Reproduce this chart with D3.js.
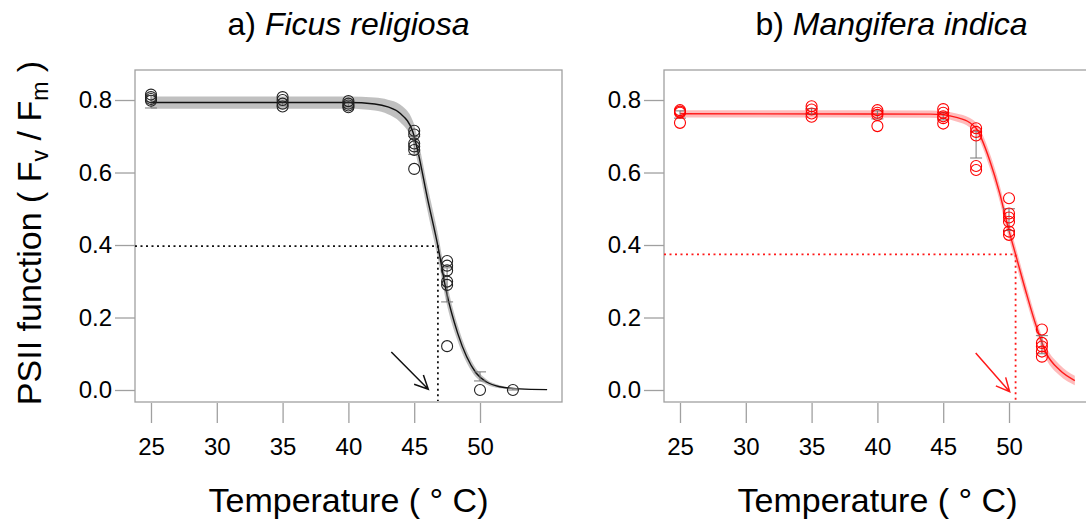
<!DOCTYPE html>
<html>
<head>
<meta charset="utf-8">
<script src="https://cdn.jsdelivr.net/npm/d3@7"></script>
<style>
  body { margin: 0; background: #fff; }
  svg { display: block; font-family: "Liberation Sans", Arial, sans-serif; }
</style>
</head>
<body>
<svg id="chart" width="1086" height="521"></svg>
<script>
// Measurement temperatures (°C)
const temps = [25, 35, 40, 45, 47.5, 50, 52.5];

// Fv/Fm readings per temperature, Ficus religiosa
const ficusFvFm = [
  [0.815, 0.808, 0.803, 0.798],
  [0.808, 0.800, 0.790, 0.782],
  [0.797, 0.790, 0.785, 0.780],
  [0.715, 0.705, 0.680, 0.672, 0.662, 0.610],
  [0.356, 0.343, 0.330, 0.299, 0.290, 0.121],
  [0.000],
  [0.000]
];
// Fv/Fm readings per temperature, Mangifera indica
const mangoFvFm = [
  [0.772, 0.768, 0.765, 0.737],
  [0.783, 0.774, 0.763, 0.754],
  [0.772, 0.765, 0.759, 0.728],
  [0.775, 0.765, 0.755, 0.750, 0.735],
  [0.722, 0.712, 0.702, 0.618, 0.607],
  [0.529, 0.487, 0.476, 0.464, 0.437, 0.428],
  [0.167, 0.130, 0.120, 0.106, 0.092]
];

// Error bar extents (low, high) per temperature
const ficusErrLow  = [0.778, 0.784, 0.781, 0.650, 0.243, 0.025, 0.000];
const ficusErrHigh = [0.812, 0.797, 0.791, 0.700, 0.337, 0.050, 0.004];
const mangoErrLow  = [0.750, 0.760, 0.748, 0.745, 0.640, 0.440, 0.100];
const mangoErrHigh = [0.770, 0.776, 0.770, 0.765, 0.714, 0.500, 0.150];

// Fitted response curves with confidence half-widths
const ficusCurveT = [25, 40, 42, 43, 43.9, 44.9, 45.3, 46, 46.8, 47.47, 48.3, 49.7, 50.5, 51.5, 53, 55.1];
const ficusCurveV = [0.793, 0.793, 0.789, 0.781, 0.764, 0.712, 0.655, 0.53, 0.397, 0.267, 0.157, 0.047, 0.022, 0.009, 0.003, 0.001];
const ficusCI     = [0.017, 0.017, 0.018, 0.02, 0.024, 0.03, 0.033, 0.034, 0.034, 0.03, 0.022, 0.012, 0.007, 0.004, 0.001, 0.0];
const mangoCurveT = [25, 44, 45, 46, 47, 47.5, 48.53, 49.29, 49.92, 50.5, 51.32, 52.08, 52.84, 53.85, 55];
const mangoCurveV = [0.762, 0.761, 0.759, 0.752, 0.738, 0.722, 0.634, 0.543, 0.45, 0.374, 0.267, 0.175, 0.101, 0.055, 0.026];
const mangoCI     = [0.01, 0.01, 0.01, 0.011, 0.013, 0.015, 0.02, 0.022, 0.022, 0.022, 0.021, 0.019, 0.017, 0.015, 0.013];

// Critical temperature (T50) and the Fv/Fm at that point
const ficusT50 = 46.8,  ficusHalf = 0.397;
const mangoT50 = 50.5,  mangoHalf = 0.374;

// Arrow pointing at T50: [tailT, tailV, tipT, tipV]
const ficusArrow = [43.26, 0.105, 46.07, 0.002];
const mangoArrow = [47.47, 0.102, 50.05, -0.005];

const xTicks = [25, 30, 35, 40, 45, 50];
const yTicks = [0.0, 0.2, 0.4, 0.6, 0.8];
const xLim = [23.785, 56.23];
const yLim = [-0.0331, 0.8828];

const svg = d3.select("#chart");

function panel(opts) {
  const x0 = opts.left, w = 427, top = 70, bottom = 402;
  const x = d3.scaleLinear().domain(xLim).range([x0, x0 + w]);
  const y = d3.scaleLinear().domain(yLim).range([bottom, top]);
  const g = svg.append("g");

  // Title
  const title = g.append("text")
    .attr("x", x0 + w / 2 + opts.titleShift).attr("y", 35)
    .attr("text-anchor", "middle").attr("font-size", 32).attr("fill", "#000");
  title.append("tspan").text(opts.prefix);
  title.append("tspan").attr("font-style", "italic").text(opts.species);

  // Box
  g.append("rect").attr("x", x0).attr("y", top).attr("width", w).attr("height", bottom - top)
    .attr("fill", "none").attr("stroke", "#a0a0a0").attr("stroke-width", 1.3);

  // X axis
  const xa = g.append("g").attr("transform", `translate(0,${bottom + 1})`)
    .call(d3.axisBottom(x).tickValues(xTicks).tickSize(20).tickPadding(15).tickFormat(d3.format("d")));
  xa.select(".domain").remove();
  xa.selectAll("line").attr("stroke", "#a0a0a0").attr("stroke-width", 1.3);
  xa.selectAll("text").attr("font-size", 24).attr("fill", "#000")
    .attr("font-family", "Liberation Sans, Arial, sans-serif");

  // Y axis
  const ya = g.append("g").attr("transform", `translate(${x0},0)`)
    .call(d3.axisLeft(y).tickValues(yTicks).tickSize(20).tickPadding(3).tickFormat(d3.format(".1f")));
  ya.select(".domain").remove();
  ya.selectAll("line").attr("stroke", "#a0a0a0").attr("stroke-width", 1.3);
  ya.selectAll("text").attr("font-size", 24).attr("fill", "#000")
    .attr("font-family", "Liberation Sans, Arial, sans-serif");

  // X axis title
  g.append("text").attr("x", x0 + w / 2).attr("y", 512)
    .attr("text-anchor", "middle").attr("font-size", 34).attr("fill", "#000")
    .text("Temperature ( \u00B0 C)");

  const clip = "clip-" + opts.id;
  g.append("clipPath").attr("id", clip).append("rect")
    .attr("x", x0).attr("y", top).attr("width", w).attr("height", bottom - top);
  const inner = g.append("g").attr("clip-path", `url(#${clip})`);

  // Confidence band and fitted curve
  const rows = opts.curveT.map((t, i) => ({ t, v: opts.curveV[i], ci: opts.ci[i] }));
  const area = d3.area().x(d => x(d.t)).y0(d => y(d.v - d.ci)).y1(d => y(d.v + d.ci))
    .curve(d3.curveMonotoneX);
  inner.append("path").attr("d", area(rows)).attr("fill", opts.band).attr("stroke", "none");
  const line = d3.line().x(d => x(d.t)).y(d => y(d.v)).curve(d3.curveMonotoneX);
  inner.append("path").attr("d", line(rows)).attr("fill", "none")
    .attr("stroke", opts.color).attr("stroke-width", 1.4);

  // Dotted guides at T50
  inner.append("path")
    .attr("d", `M${x(xLim[0])},${y(opts.half)}H${x(opts.t50)}V${y(-0.03)}`)
    .attr("fill", "none").attr("stroke", opts.color).attr("stroke-width", 1.8)
    .attr("stroke-dasharray", "2,3.5");

  // Error bars
  temps.forEach((t, i) => {
    const cx = x(t), lo = y(opts.errLow[i]), hi = y(opts.errHigh[i]);
    inner.append("path")
      .attr("d", `M${cx},${lo}V${hi}M${cx - 6},${lo}H${cx + 6}M${cx - 6},${hi}H${cx + 6}`)
      .attr("stroke", "#777").attr("stroke-width", 1).attr("fill", "none");
  });

  // Observations
  temps.forEach((t, i) => {
    inner.selectAll(null).data(opts.values[i]).enter().append("circle")
      .attr("cx", x(t)).attr("cy", d => y(d)).attr("r", 5.5)
      .attr("fill", "none").attr("stroke", opts.pointColor).attr("stroke-width", 1.1);
  });

  // Arrow toward T50
  const [tT, tV, hT, hV] = opts.arrow;
  const ax0 = x(tT), ay0 = y(tV), ax1 = x(hT), ay1 = y(hV);
  const ang = Math.atan2(ay1 - ay0, ax1 - ax0), len = 15, spread = Math.PI / 7;
  g.append("path")
    .attr("d", `M${ax0},${ay0}L${ax1},${ay1}` +
      `M${ax1 - len * Math.cos(ang - spread)},${ay1 - len * Math.sin(ang - spread)}L${ax1},${ay1}` +
      `L${ax1 - len * Math.cos(ang + spread)},${ay1 - len * Math.sin(ang + spread)}`)
    .attr("fill", "none").attr("stroke", opts.color).attr("stroke-width", 1.5);
}

panel({
  id: "ficus", left: 135, prefix: "a) ", species: "Ficus religiosa", titleShift: 0,
  values: ficusFvFm, errLow: ficusErrLow, errHigh: ficusErrHigh,
  curveT: ficusCurveT, curveV: ficusCurveV, ci: ficusCI, t50: ficusT50, half: ficusHalf, arrow: ficusArrow,
  color: "#111", pointColor: "#222", band: "rgba(150,150,150,0.6)"
});
panel({
  id: "mango", left: 664, prefix: "b) ", species: "Mangifera indica", titleShift: 14,
  values: mangoFvFm, errLow: mangoErrLow, errHigh: mangoErrHigh,
  curveT: mangoCurveT, curveV: mangoCurveV, ci: mangoCI, t50: mangoT50, half: mangoHalf, arrow: mangoArrow,
  color: "#ff1a1a", pointColor: "#ff0000", band: "rgba(255,120,120,0.5)"
});

// Shared y axis title with subscripts
const yt = svg.append("text")
  .attr("transform", "translate(41,233) rotate(-90)")
  .attr("text-anchor", "middle").attr("font-size", 34).attr("fill", "#000");
yt.append("tspan").text("PSII function ( F");
yt.append("tspan").attr("font-size", 23).attr("dy", 7).text("v");
yt.append("tspan").attr("dy", -7).text(" / F");
yt.append("tspan").attr("font-size", 23).attr("dy", 7).text("m");
yt.append("tspan").attr("dy", -7).text(" )");
</script>
</body>
</html>
